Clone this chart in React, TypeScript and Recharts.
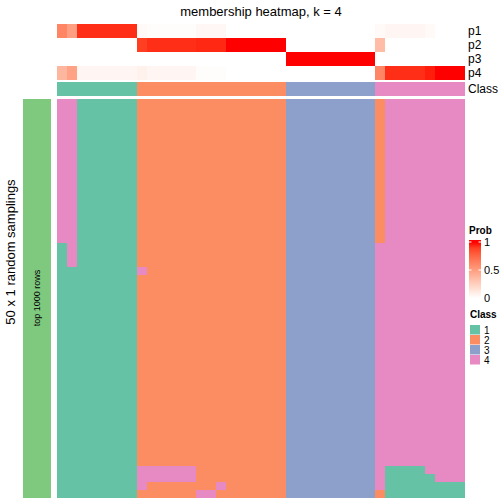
import { Scatter, ScatterChart, XAxis, YAxis } from 'recharts';

// class colours (Set2) and the sampling bar colour
const CLASS_COLORS: Record<string, string> = { '1': '#66C2A5', '2': '#FC8D62', '3': '#8DA0CB', '4': '#E78AC3' };
const SAMPLE_COLOR = '#7FC97F';

const TITLE = 'membership heatmap, k = 4';
const ROW_TITLE = '50 x 1 random samplings';
const SPLIT_LABEL = 'top 1000 rows';
const ANNO_LABELS = ['p1', 'p2', 'p3', 'p4'];
const PROB_TICKS = [1, 0.5, 0];
const CLASS_KEYS = ['1', '2', '3', '4'];

// membership probabilities per column (41 columns)
const P1 = [0.62, 0.5, 0.94, 0.94, 0.94, 0.94, 0.94, 0.94, 0.03, 0.01, 0.01, 0.01, 0.01, 0.01, 0.04, 0.04, 0.04, 0, 0, 0, 0, 0, 0,
  0, 0, 0, 0, 0, 0, 0, 0, 0, 0.03, 0.05, 0.05, 0.05, 0.05, 0.03, 0, 0, 0];
const P2 = [0, 0, 0, 0, 0, 0, 0, 0, 0.9, 0.94, 0.94, 0.94, 0.94, 0.94, 0.95, 0.95, 0.95, 1, 1, 1, 1, 1, 1,
  0, 0, 0, 0, 0, 0, 0, 0, 0, 0.35, 0, 0, 0, 0, 0, 0, 0, 0];
const P3 = [0, 0, 0, 0, 0, 0, 0, 0, 0, 0, 0, 0, 0, 0, 0, 0, 0, 0, 0, 0, 0, 0, 0,
  1, 1, 1, 1, 1, 1, 1, 1, 1, 0, 0, 0, 0, 0, 0, 0, 0, 0];
const P4 = [0.38, 0.48, 0.05, 0.05, 0.05, 0.05, 0.05, 0.05, 0.07, 0.05, 0.05, 0.05, 0.05, 0.05, 0.01, 0.01, 0.01, 0, 0, 0, 0, 0, 0,
  0, 0, 0, 0, 0, 0, 0, 0, 0, 0.62, 0.94, 0.94, 0.94, 0.94, 0.97, 1, 1, 1];

const CLASS_ROW = '11111111 222222222222222 333333333 444444444';

// class of each sampling (rows) per column
const SAMPLINGS = [
  '44111111 222222222222222 333333333 244444444',
  '44111111 222222222222222 333333333 244444444',
  '44111111 222222222222222 333333333 244444444',
  '44111111 222222222222222 333333333 244444444',
  '44111111 222222222222222 333333333 244444444',
  '44111111 222222222222222 333333333 244444444',
  '44111111 222222222222222 333333333 244444444',
  '44111111 222222222222222 333333333 244444444',
  '44111111 222222222222222 333333333 244444444',
  '44111111 222222222222222 333333333 244444444',
  '44111111 222222222222222 333333333 244444444',
  '44111111 222222222222222 333333333 244444444',
  '44111111 222222222222222 333333333 244444444',
  '44111111 222222222222222 333333333 244444444',
  '44111111 222222222222222 333333333 244444444',
  '44111111 222222222222222 333333333 244444444',
  '44111111 222222222222222 333333333 244444444',
  '44111111 222222222222222 333333333 244444444',
  '14111111 222222222222222 333333333 444444444',
  '14111111 222222222222222 333333333 444444444',
  '14111111 222222222222222 333333333 444444444',
  '11111111 422222222222222 333333333 444444444',
  '11111111 222222222222222 333333333 444444444',
  '11111111 222222222222222 333333333 444444444',
  '11111111 222222222222222 333333333 444444444',
  '11111111 222222222222222 333333333 444444444',
  '11111111 222222222222222 333333333 444444444',
  '11111111 222222222222222 333333333 444444444',
  '11111111 222222222222222 333333333 444444444',
  '11111111 222222222222222 333333333 444444444',
  '11111111 222222222222222 333333333 444444444',
  '11111111 222222222222222 333333333 444444444',
  '11111111 222222222222222 333333333 444444444',
  '11111111 222222222222222 333333333 444444444',
  '11111111 222222222222222 333333333 444444444',
  '11111111 222222222222222 333333333 444444444',
  '11111111 222222222222222 333333333 444444444',
  '11111111 222222222222222 333333333 444444444',
  '11111111 222222222222222 333333333 444444444',
  '11111111 222222222222222 333333333 444444444',
  '11111111 222222222222222 333333333 444444444',
  '11111111 222222222222222 333333333 444444444',
  '11111111 222222222222222 333333333 444444444',
  '11111111 222222222222222 333333333 444444444',
  '11111111 222222222222222 333333333 444444444',
  '11111111 222222222222222 333333333 444444444',
  '11111111 444444222222222 333333333 411114444',
  '11111111 444444222222222 333333333 411111444',
  '11111111 422222224222222 333333333 411111111',
  '11111111 222222442222222 333333333 211111111',
];

// white -> red in LAB space, like colorRamp2
function srgbToLab(rgb: number[]) {
  const lin = rgb.map((c) => { c /= 255; return c <= 0.04045 ? c / 12.92 : Math.pow((c + 0.055) / 1.055, 2.4); });
  const X = (0.4124 * lin[0] + 0.3576 * lin[1] + 0.1805 * lin[2]) / 0.95047;
  const Y = 0.2126 * lin[0] + 0.7152 * lin[1] + 0.0722 * lin[2];
  const Z = (0.0193 * lin[0] + 0.1192 * lin[1] + 0.9505 * lin[2]) / 1.08883;
  const f = (t: number) => (t > 0.008856 ? Math.cbrt(t) : 7.787 * t + 16 / 116);
  const fx = f(X), fy = f(Y), fz = f(Z);
  return [116 * fy - 16, 500 * (fx - fy), 200 * (fy - fz)];
}
function labToHex([L, a, b]: number[]) {
  const fy = (L + 16) / 116, fx = fy + a / 500, fz = fy - b / 200;
  const inv = (t: number) => (t * t * t > 0.008856 ? t * t * t : (t - 16 / 116) / 7.787);
  const X = inv(fx) * 0.95047, Y = inv(fy), Z = inv(fz) * 1.08883;
  const r = 3.2406 * X - 1.5372 * Y - 0.4986 * Z;
  const g = -0.9689 * X + 1.8758 * Y + 0.0415 * Z;
  const bl = 0.0557 * X - 0.204 * Y + 1.057 * Z;
  const out = [r, g, bl].map((c) => {
    c = c <= 0.0031308 ? 12.92 * c : 1.055 * Math.pow(c, 1 / 2.4) - 0.055;
    const v = Math.round(Math.max(0, Math.min(1, c)) * 255);
    return v.toString(16).padStart(2, '0');
  });
  return '#' + out.join('');
}
const LAB_WHITE = srgbToLab([255, 255, 255]);
const LAB_RED = srgbToLab([255, 0, 0]);
const probColor = (p: number) => labToHex(LAB_WHITE.map((w, i) => w + (LAB_RED[i] - w) * p));

type Cell = { x: number; y: number; fill: string };

function HeatStrip({ cells, cols, rows, width, height }: { cells: Cell[]; cols: number; rows: number; width: number; height: number }) {
  const cw = width / cols;
  const ch = height / rows;
  return (
    <ScatterChart width={width} height={height} margin={{ top: 0, right: 0, bottom: 0, left: 0 }}>
      <XAxis type="number" dataKey="x" domain={[0, cols]} allowDataOverflow hide />
      <YAxis type="number" dataKey="y" domain={[0, rows]} allowDataOverflow reversed hide />
      <Scatter
        data={cells}
        isAnimationActive={false}
        shape={(p: any) => {
          // snap cell edges to whole pixels so neighbours meet without seams
          const x0 = Math.round(p.cx - cw / 2), x1 = Math.round(p.cx + cw / 2);
          const y0 = Math.round(p.cy - ch / 2), y1 = Math.round(p.cy + ch / 2);
          return <rect x={x0} y={y0} width={x1 - x0} height={y1 - y0} fill={p.payload.fill} shapeRendering="crispEdges" />;
        }}
      />
    </ScatterChart>
  );
}

const clean = (s: string) => s.replace(/ /g, '');

export default function App() {
  const ncols = P1.length;
  const probCells: Cell[] = [];
  [P1, P2, P3, P4].forEach((row, r) => row.forEach((v, c) => probCells.push({ x: c + 0.5, y: r + 0.5, fill: probColor(v) })));
  const classCells: Cell[] = clean(CLASS_ROW).split('').map((k, c) => ({ x: c + 0.5, y: 0.5, fill: CLASS_COLORS[k] }));
  const mainCells: Cell[] = [];
  SAMPLINGS.forEach((s, r) => clean(s).split('').forEach((k, c) => mainCells.push({ x: c + 0.5, y: r + 0.5, fill: CLASS_COLORS[k] })));
  const sampleCells: Cell[] = [{ x: 0.5, y: 0.5, fill: SAMPLE_COLOR }];

  const font = '"Liberation Sans", Arial, Helvetica, sans-serif';
  const gradStops = [0, 0.1, 0.2, 0.3, 0.4, 0.5, 0.6, 0.7, 0.8, 0.9, 1];
  const box = (left: number, top: number): React.CSSProperties => ({ position: 'absolute', left, top });

  return (
    <div style={{ position: 'absolute', left: 0, top: 0, width: 504, height: 504, background: '#fff', fontFamily: font }}>
      <div style={box(57, 24)}>
        <HeatStrip cells={probCells} cols={ncols} rows={4} width={408} height={56} />
      </div>
      <div style={box(57, 82)}>
        <HeatStrip cells={classCells} cols={ncols} rows={1} width={408} height={14} />
      </div>
      <div style={box(57, 99)}>
        <HeatStrip cells={mainCells} cols={ncols} rows={SAMPLINGS.length} width={408} height={399} />
      </div>
      <div style={box(23, 99)}>
        <HeatStrip cells={sampleCells} cols={1} rows={1} width={28} height={399} />
      </div>
      <svg width={504} height={504} style={{ position: 'absolute', left: 0, top: 0, pointerEvents: 'none' }} fontFamily={font}>
        <defs>
          <linearGradient id="probGrad" x1="0" y1="1" x2="0" y2="0">
            {gradStops.map((t) => (
              <stop key={t} offset={`${t * 96}%`} stopColor={probColor(t)} />
            ))}
          </linearGradient>
        </defs>
        <text x={261} y={16} fontSize={13} textAnchor="middle" fill="#000">{TITLE}</text>
        <text transform="translate(15,252) rotate(-90)" fontSize={13} textAnchor="middle" fill="#000">{ROW_TITLE}</text>
        <text transform="translate(40,298) rotate(-90)" fontSize={9} textAnchor="middle" fill="#000">{SPLIT_LABEL}</text>
        {ANNO_LABELS.map((l, i) => (
          <text key={l} x={468} y={31 + i * 14} fontSize={12} dominantBaseline="central" fill="#000">{l}</text>
        ))}
        <text x={468} y={89} fontSize={12} dominantBaseline="central" fill="#000">Class</text>

        <text x={469} y={234} fontSize={10} fontWeight="bold" fill="#000">Prob</text>
        <rect x={469} y={240} width={12} height={58} fill="url(#probGrad)" />
        {PROB_TICKS.map((t) => {
          const y = 298 - t * 56;
          return (
            <g key={t}>
              {t > 0 && <line x1={469} x2={471.5} y1={y} y2={y} stroke="#fff" strokeWidth={1} />}
              {t > 0 && <line x1={478.5} x2={481} y1={y} y2={y} stroke="#fff" strokeWidth={1} />}
              <text x={484} y={y} fontSize={11} dominantBaseline="central" fill="#000">{t}</text>
            </g>
          );
        })}
        <text x={470} y={318} fontSize={10} fontWeight="bold" fill="#000">Class</text>
        {CLASS_KEYS.map((k, i) => (
          <g key={k}>
            <rect x={470} y={325 + i * 10} width={10} height={9.5} fill={CLASS_COLORS[k]} />
            <text x={484} y={330 + i * 10} fontSize={10} dominantBaseline="central" fill="#000">{k}</text>
          </g>
        ))}
      </svg>
    </div>
  );
}
